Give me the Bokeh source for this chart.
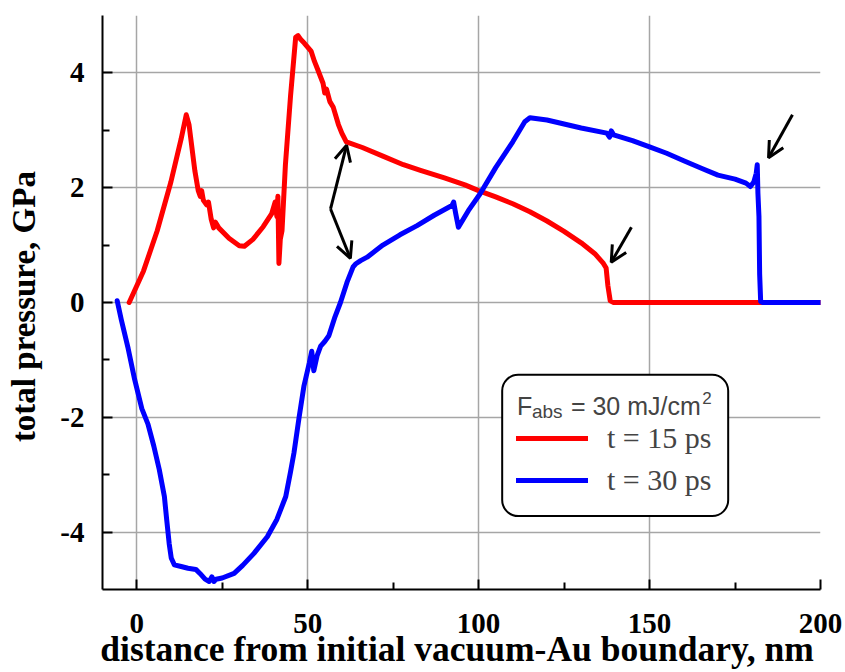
from bokeh.plotting import figure
from bokeh.models import (Range1d, FixedTicker, Arrow, OpenHead, Label,
                          BoxAnnotation, Legend, LegendItem)
from bokeh.core.properties import value
from bokeh.embed import file_html
from bokeh.resources import INLINE

# ---- data: t = 15 ps (red) ----
red_x = [-2.2, 2, 6, 10, 13, 14.5, 15.3, 17, 18, 18.6, 19.0, 19.5, 20.5, 21.0,
         21.8, 22.5, 23.0, 24, 27, 30, 31.5, 34, 37, 39.5, 40.5, 41, 41.3, 41.6,
         42.0, 42.5, 43.5, 45, 46.5, 47.2, 48, 49, 50, 51, 52, 53, 54.5, 55,
         55.5, 56.5, 57.5, 59, 60, 61.3, 66, 72, 78, 83, 90, 96, 100, 105, 110,
         115, 120, 125, 130, 134, 136.5, 137.3, 137.8, 138.5, 139.5, 200]
red_y = [0.0, 0.55, 1.25, 2.1, 2.85, 3.27, 3.1, 2.3, 1.95, 1.85, 1.95, 1.78, 1.7,
         1.75, 1.45, 1.3, 1.4, 1.3, 1.12, 0.99, 0.98, 1.1, 1.32, 1.55, 1.75, 1.5,
         1.85, 0.68, 1.1, 1.25, 2.4, 3.6, 4.62, 4.65, 4.58, 4.52, 4.45, 4.38, 4.2,
         4.05, 3.82, 3.65, 3.72, 3.5, 3.4, 3.1, 2.95, 2.8, 2.7, 2.55, 2.4, 2.3,
         2.17, 2.05, 1.95, 1.84, 1.72, 1.58, 1.42, 1.24, 1.04, 0.85, 0.68, 0.6,
         0.3, 0.03, 0.0, 0.0]

# ---- data: t = 30 ps (blue) ----
blue_x = [-5.7, -4.5, -2.5, -0.6, 1.5, 3.3, 5, 6.6, 8.1, 8.8, 9.5, 10.1, 11, 13,
          15, 17.3, 18.5, 20, 21.2, 22, 22.6, 23.2, 25, 28.5, 31, 34.3, 38.2, 41,
          43.6, 45, 46, 47.5, 48.9, 50.5, 51.2, 51.8, 52.8, 53.8, 55, 56.2, 58,
          59.6, 61.5, 63.3, 64, 65.5, 67.4, 72, 77, 82, 87, 92.2, 92.7, 93.3, 94.1,
          97, 100.4, 105, 110, 113.5, 115, 120, 125, 130, 137.5, 138.3, 138.8,
          139.5, 145, 150, 155, 160, 165.5, 170, 175, 178.2, 179.5, 180.5, 181.2,
          181.5, 181.7, 182.0, 182.2, 182.5, 183, 200]
blue_y = [0.03, -0.3, -0.8, -1.34, -1.85, -2.12, -2.5, -2.91, -3.38, -3.8, -4.2,
          -4.45, -4.57, -4.6, -4.63, -4.65, -4.72, -4.82, -4.86, -4.78, -4.86,
          -4.82, -4.8, -4.72, -4.58, -4.37, -4.08, -3.78, -3.38, -2.95, -2.62,
          -2.0, -1.46, -1.05, -0.85, -1.19, -0.92, -0.76, -0.68, -0.58, -0.25,
          0.0, 0.35, 0.62, 0.67, 0.73, 0.79, 1.0, 1.18, 1.34, 1.52, 1.69, 1.75,
          1.55, 1.31, 1.6, 1.89, 2.35, 2.8, 3.15, 3.22, 3.18, 3.11, 3.04, 2.95,
          2.88, 2.99, 2.92, 2.82, 2.71, 2.6, 2.47, 2.33, 2.22, 2.15, 2.08, 2.02,
          2.1, 2.25, 2.4, 1.9, 1.5, 0.5, 0.02, 0.0, 0.0]

# ---- ticks ----
x_ticks = [0, 50, 100, 150, 200]
x_minor = [25, 75, 125, 175]
x_tick_labels = ["0", "50", "100", "150", "200"]
y_ticks = [-4, -2, 0, 2, 4]
y_minor = [-3, -1, 1, 3]
y_tick_labels = ["-4", "-2", "0", "2", "4"]

x_title = "distance from initial vacuum-Au boundary,  nm"
y_title = "total pressure,  GPa"

# ---- annotation arrows (start x, start y, end x, end y) ----
arrows = [
    (56.7, 1.63, 61.4, 2.74),
    (56.7, 1.63, 62.5, 0.77),
    (144.7, 1.31, 138.8, 0.70),
    (191.8, 3.27, 184.8, 2.52),
]

series_labels = ["t = 15 ps", "t = 30 ps"]

p = figure(width=845, height=672, x_range=Range1d(-10, 200),
           y_range=Range1d(-5, 5), output_backend="svg",
           toolbar_location=None, min_border_left=102, min_border_right=25,
           min_border_top=15, min_border_bottom=83)
p.outline_line_color = None
p.background_fill_color = "white"
p.border_fill_color = "white"

serif = "Liberation Serif"
for ax, ticks, minor, labels in ((p.xaxis[0], x_ticks, x_minor, x_tick_labels),
                                 (p.yaxis[0], y_ticks, y_minor, y_tick_labels)):
    ax.ticker = FixedTicker(ticks=ticks, minor_ticks=minor)
    ax.major_label_overrides = {t: l for t, l in zip(ticks, labels)}
    ax.axis_line_color = "black"
    ax.axis_line_width = 2
    ax.major_tick_in = 10
    ax.major_tick_out = 0
    ax.minor_tick_in = 7
    ax.minor_tick_out = 0
    ax.major_tick_line_color = "black"
    ax.major_tick_line_width = 2
    ax.minor_tick_line_color = "black"
    ax.minor_tick_line_width = 2
    ax.major_label_text_font = serif
    ax.major_label_text_font_style = "bold"
    ax.major_label_text_font_size = "29px"
    ax.major_label_text_color = "black"
    ax.axis_label_text_font = serif
    ax.axis_label_text_font_style = "bold"
    ax.axis_label_text_color = "black"

p.xaxis.axis_label = x_title
p.yaxis.axis_label = y_title
p.xaxis.axis_label_text_font_size = "35.5px"
p.yaxis.axis_label_text_font_size = "33px"
p.xaxis.major_label_standoff = 24
p.yaxis.major_label_standoff = 18
p.xaxis.axis_label_standoff = -7
p.yaxis.axis_label_standoff = 15

for g in (p.xgrid[0], p.ygrid[0]):
    g.grid_line_color = "#a6a6a6"
    g.grid_line_width = 1.5

r_red = p.line(red_x, red_y, line_color="#ff0000", line_width=5,
               line_join="round", line_cap="round")
r_blue = p.line(blue_x, blue_y, line_color="#0000ff", line_width=5,
                line_join="round", line_cap="round")

for xs, ys, xe, ye in arrows:
    p.add_layout(Arrow(end=OpenHead(size=16, line_width=3, line_color="black"),
                       x_start=xs, y_start=ys, x_end=xe, y_end=ye,
                       line_width=3, line_color="black"))

# legend box
box = BoxAnnotation(left=106.9, right=173.0, top=-1.26, bottom=-3.72,
                    fill_color="white", fill_alpha=1.0, line_color="black",
                    line_alpha=1.0, line_width=2, border_radius=16)
p.add_layout(box)

sans = "Liberation Sans"
p.add_layout(Label(x=111.2, y=-1.80, text="F", text_font=sans,
                   text_font_size="25px", text_baseline="alphabetic"))
p.add_layout(Label(x=115.6, y=-1.90, text="abs", text_font=sans,
                   text_font_size="19px", text_baseline="alphabetic"))
p.add_layout(Label(x=127.0, y=-1.80, text="= 30 mJ/cm", text_font=sans,
                   text_font_size="25px", text_baseline="alphabetic"))
p.add_layout(Label(x=165.4, y=-1.66, text="2", text_font=sans,
                   text_font_size="17px", text_baseline="alphabetic"))

legend = Legend(items=[LegendItem(label=value(series_labels[0]), renderers=[r_red]),
                       LegendItem(label=value(series_labels[1]), renderers=[r_blue])],
                location=(414, 92), label_text_font=serif,
                label_text_font_size="30px", glyph_width=72, glyph_height=20,
                label_height=30, label_standoff=19, spacing=8, padding=0,
                margin=0, border_line_alpha=0, background_fill_alpha=0)
p.add_layout(legend)

open("out.html", "w").write(file_html(p, INLINE))
